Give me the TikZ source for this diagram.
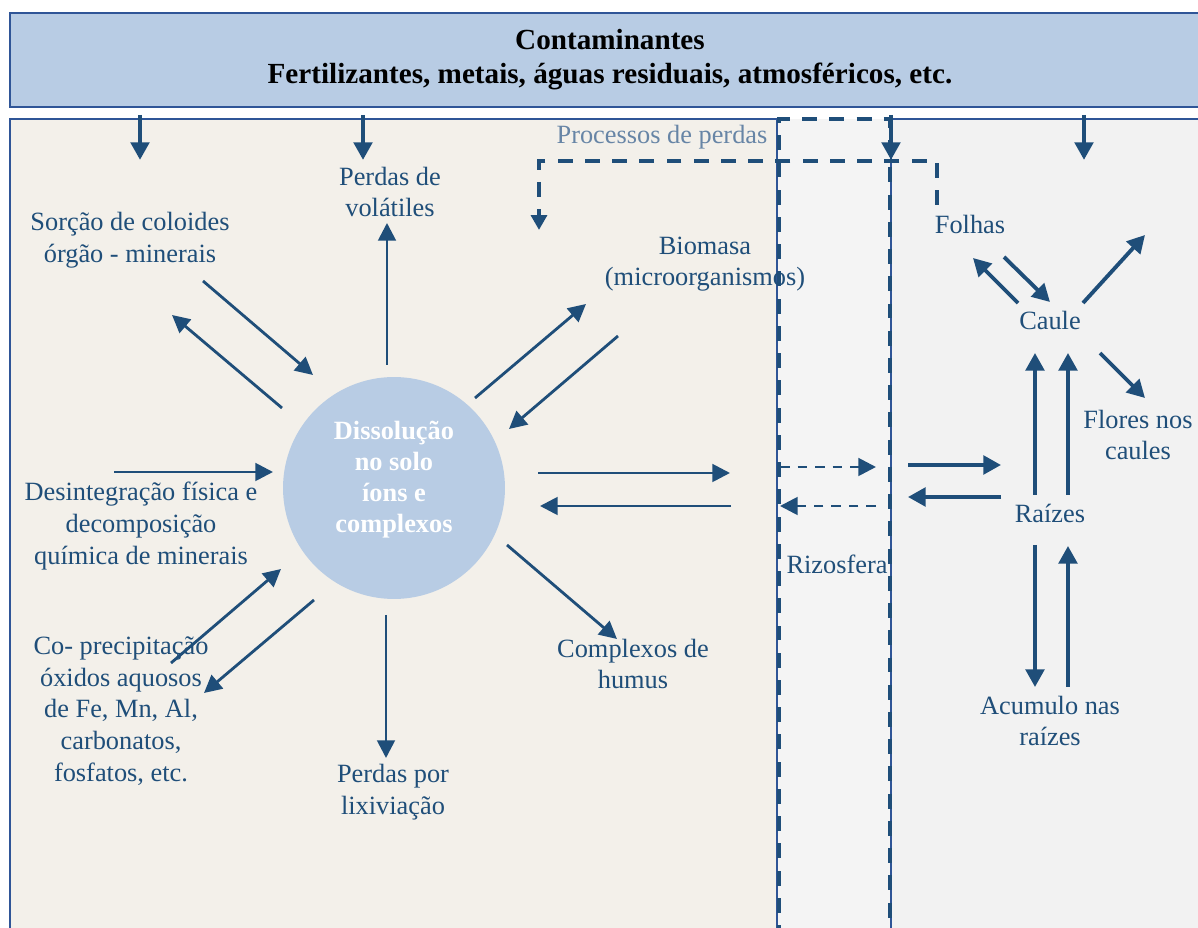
\documentclass[tikz,border=0pt]{standalone}
\usepackage{fontspec}
\setmainfont{Liberation Serif}
\usetikzlibrary{arrows.meta,calc}
\definecolor{azul}{RGB}{31,78,121}
\definecolor{cabec}{RGB}{184,204,228}
\definecolor{solo}{RGB}{243,240,234}
\definecolor{planta}{RGB}{242,242,242}
\definecolor{zonarizo}{RGB}{244,244,244}
\definecolor{cinza}{RGB}{103,133,166}
\definecolor{borda}{RGB}{47,85,151}
\tikzset{
  {texto/.style} = {text=azul, font=\fontsize{15}{18}\selectfont, align=center},
  {seta/.style} = {draw=azul, line width=1.6pt, -{Triangle[length=10pt,width=10pt]}},
  {seta grossa/.style} = {seta, line width=2.2pt, -{Triangle[length=10pt,width=10.5pt]}},
  {seta trac/.style} = {seta, line width=1.6pt, dash pattern=on 5.5pt off 4.5pt},
  {limite/.style} = {draw=azul, line width=2.2pt, dash pattern=on 8.5pt off 7pt},
  {painel/.style} = {draw=borda, line width=0.9pt},
}

\begin{document}
\begin{tikzpicture}[x=0.02cm, y=-0.02cm]
    \useasboundingbox (0,0) rectangle (1198,928);
    % fundos
    \fill[solo] (10,119) rectangle (778,940);
    \draw[painel] (10,940) -- (10,119) -- (777,119) -- (777,940);
    \fill[zonarizo] (778,119) rectangle (890,940);
    \fill[planta] (890,119) rectangle (1210,940);
    \draw[painel] (891,940) -- (891,119);
    \draw[painel, line width=1.4pt] (891,119) -- (1210,119);
    \draw[limite] (779,940) -- (779,119) -- (890,119) -- (890,940);

    \node[draw=borda, line width=1pt, fill=cabec, minimum width=24cm,
      minimum height=1.88cm, inner sep=0, align=center,
      font=\bfseries\fontsize{16.6}{19.3}\selectfont] (cont) at (610,60)
      {Contaminantes\\Fertilizantes, metais, águas residuais, atmosféricos, etc.};

    \node[circle, fill=cabec, minimum size=4.44cm, inner sep=0] (diss) at (394,488) {};
    \node[text=white, align=center, font=\bfseries\fontsize{15}{17.6}\selectfont]
      (disstxt) at (394,480) {Dissolução\\no solo\\íons e\\complexos};

    \node[texto] (volat) at (390,192) {Perdas de\\volátiles};
    \node[texto] (sorc) at (130,240) {Sorção de coloides\\órgão - minerais};
    \node[texto] (desint) at (141,526) {Desintegração física e\\decomposição\\química de minerais};
    \node[texto] (coprec) at (121,711) {Co- precipitação\\óxidos aquosos\\de Fe, Mn, Al,\\carbonatos,\\fosfatos, etc.};
    \node[texto] (lixiv) at (393,792) {Perdas por\\lixiviação};
    \node[texto] (humus) at (633,664) {Complexos de\\humus};
    \node[texto] (bioma) at (705,264) {Biomasa\\(microorganismos)};
    \node[texto] (rizo) at (837,564) {Rizosfera};
    \node[texto] (folhas) at (970,224) {Folhas};
    \node[texto] (caule) at (1050,320) {Caule};
    \node[texto] (flores) at (1138,435) {Flores nos\\caules};
    \node[texto] (raizes) at (1050,513) {Raízes};
    \node[texto] (acum) at (1050,721) {Acumulo nas\\raízes};
    \node[texto, text=cinza] (perdas) at (662,137) {Processos de perdas};

    \foreach \x in {140,363,891,1084}
      \draw[seta grossa, shorten <=4pt] (cont.south -| \x,0) -- ++(0,52);

    % solo
    \draw[seta] ($(diss)+(-7,-123)$) -- ($(volat)+(-3,31)$);
    \draw[seta] ($(sorc)+(73,41)$) -- ($(diss)+(-81,-113)$);
    \draw[seta] ($(diss)+(-112,-80)$) -- ($(sorc)+(42,75)$);
    \draw[seta] ($(desint)+(-27,-54)$) -- ($(diss)+(-121,-16)$);
    \draw[seta] ($(coprec)+(50,-48)$) -- ($(diss)+(-113,81)$);
    \draw[seta] ($(diss)+(-80,112)$) -- ($(coprec)+(83,-18)$);
    \draw[seta] ($(diss)+(-8,127)$) -- ($(lixiv)+(-7,-34)$);
    \draw[seta] ($(diss)+(113,57)$) -- ($(humus)+(-16,-25)$);
    \draw[seta] ($(diss)+(81,-90)$) -- ($(bioma)+(-119,40)$);
    \draw[seta] ($(bioma)+(-87,72)$) -- ($(diss)+(115,-59)$);
    \draw[seta] ($(diss)+(144,-15)$) -- ($(rizo)+(-107,-91)$);
    \draw[seta] ($(rizo)+(-106,-58)$) -- ($(diss)+(146,18)$);

    % rizosfera e planta
    \draw[seta trac] ($(rizo)+(-57,-97)$) -- ($(rizo)+(39,-97)$);
    \draw[seta trac] ($(rizo)+(39,-58)$) -- ($(rizo)+(-57,-58)$);
    \draw[seta grossa] ($(raizes)+(-142,-48)$) -- ($(raizes)+(-49,-48)$);
    \draw[seta grossa] ($(raizes)+(-49,-16)$) -- ($(raizes)+(-142,-16)$);
    \draw[seta grossa] ($(raizes)+(-15,-18)$) -- ($(caule)+(-15,33)$);
    \draw[seta grossa] ($(raizes)+(18,-18)$) -- ($(caule)+(18,33)$);
    \draw[seta grossa] ($(raizes)+(-15,32)$) -- ($(acum)+(-15,-34)$);
    \draw[seta grossa] ($(acum)+(18,-34)$) -- ($(raizes)+(18,33)$);
    \draw[seta grossa] ($(caule)+(-32,-17)$) -- ($(folhas)+(3,34)$);
    \draw[seta grossa] ($(folhas)+(34,33)$) -- ($(caule)+(0,-18)$);
    \draw[seta grossa] ($(caule)+(33,-17)$) -- ($(caule)+(95,-85)$);
    \draw[seta grossa] ($(caule)+(50,33)$) -- ($(flores)+(7,-37)$);

    \draw[limite, -{Triangle[length=8.5pt,width=9pt]}] ($(folhas)+(-33,-19)$)
      -- ++(0,-44) -| ($(bioma)+(-166,-34)$);
\end{tikzpicture}
\end{document}
